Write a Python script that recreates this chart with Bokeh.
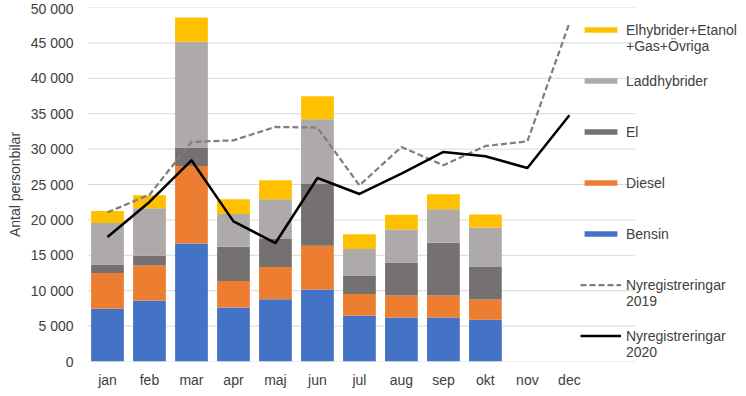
from bokeh.plotting import figure
from bokeh.models import (Range1d, FixedTicker, Legend, LegendItem, ColumnDataSource)
from bokeh.embed import file_html
from bokeh.resources import INLINE

months = ["jan", "feb", "mar", "apr", "maj", "jun", "jul", "aug", "sep", "okt", "nov", "dec"]
bar_months = months[:10]

bensin = [7450, 8620, 16680, 7630, 8810, 10180, 6460, 6220, 6220, 5890]
diesel = [5040, 4950, 10940, 3730, 4530, 6170, 3060, 3110, 3110, 2880]
el = [1220, 1370, 2590, 4850, 3960, 8720, 2640, 4670, 7450, 4570]
laddhybrider = [5850, 6690, 14940, 4620, 5600, 9140, 3720, 4660, 4710, 5600]
elhybrider_ovriga = [1690, 1840, 3440, 2070, 2690, 3260, 2080, 2080, 2120, 1840]

nyreg_2019 = [21070, 23560, 31010, 31240, 33130, 33040, 24880, 30300, 27710, 30440, 31100, 47800]
nyreg_2020 = [17580, 22530, 28420, 19790, 16730, 25920, 23660, 26530, 29600, 28980, 27330, 34780]

y_ticks = list(range(0, 50001, 5000))
y_tick_labels = {v: f"{v:,}".replace(",", " ") for v in y_ticks}

series_names = ["bensin", "diesel", "el", "ladd", "ovr"]
# leading blank line keeps the first text line level with the legend swatch
series_labels = ["Bensin", "Diesel", "El", "Laddhybrider", "\nElhybrider+Etanol\n+Gas+Övriga"]
line_labels = ["\nNyregistreringar\n2019", "\nNyregistreringar\n2020"]
colors = ["#4472C4", "#ED7D31", "#767171", "#AEAAAA", "#FFC000"]

xpos = list(range(1, len(months) + 1))
bar_x = xpos[:len(bar_months)]

# category axis spans 13 slots wide in the original; legend sits beyond it
X_START = 0.524
AXIS_END = 13.57
X_END = 16.17

src = ColumnDataSource(dict(x=bar_x, bensin=bensin, diesel=diesel, el=el,
                            ladd=laddhybrider, ovr=elhybrider_ovriga))

FONT = "Liberation Sans"
TXT = "#404040"
GRID = "#D9D9D9"

p = figure(width=744, height=394, output_backend="svg", toolbar_location=None,
           x_range=Range1d(X_START, X_END), y_range=Range1d(0, 50000),
           min_border_left=87, min_border_right=0, min_border_top=7, min_border_bottom=33)
p.outline_line_color = None
p.xgrid.grid_line_color = None
p.ygrid.grid_line_color = None

# gridlines limited to the category axis width
p.segment(x0=[X_START] * len(y_ticks), x1=[AXIS_END] * len(y_ticks), y0=y_ticks, y1=y_ticks,
          line_color=GRID, line_width=1)

bars = p.vbar_stack(series_names, x="x", width=0.78, source=src, color=colors, line_color=None)

l19 = p.line(xpos, nyreg_2019, line_color="#7F7F7F", line_width=2.25, line_dash="6 3", line_join="round")
l20 = p.line(xpos, nyreg_2020, line_color="#000000", line_width=2.5, line_join="round")

# axes
p.xaxis.ticker = FixedTicker(ticks=xpos)
p.xaxis.major_label_overrides = {x: m for x, m in zip(xpos, months)}
p.xaxis.axis_line_color = None
p.xaxis.major_tick_line_color = None
p.xaxis.major_tick_out = 0
p.xaxis.minor_tick_line_color = None
p.xaxis.minor_tick_out = 0
p.xaxis.major_label_standoff = 10

p.yaxis.ticker = FixedTicker(ticks=y_ticks)
p.yaxis.major_label_overrides = y_tick_labels
p.yaxis.axis_line_color = None
p.yaxis.major_tick_line_color = None
p.yaxis.major_tick_out = 0
p.yaxis.minor_tick_line_color = None
p.yaxis.minor_tick_out = 0
p.yaxis.major_label_standoff = 14
p.yaxis.axis_label = "Antal personbilar"
p.yaxis.axis_label_standoff = 5
p.yaxis.axis_label_text_font_style = "normal"

for ax in (p.xaxis[0], p.yaxis[0]):
    ax.major_label_text_font = FONT
    ax.major_label_text_font_size = "14px"
    ax.major_label_text_color = TXT
    ax.axis_label_text_font = FONT
    ax.axis_label_text_font_size = "14px"
    ax.axis_label_text_color = TXT

items = [LegendItem(label=series_labels[i], renderers=[bars[i]]) for i in [4, 3, 2, 1, 0]]
items.append(LegendItem(label=line_labels[0], renderers=[l19]))
items.append(LegendItem(label=line_labels[1], renderers=[l20]))

legend = Legend(items=items, location=(493, 0), orientation="vertical",
                background_fill_alpha=0, border_line_color=None,
                padding=0, margin=0, spacing=0, glyph_width=41, glyph_height=7,
                label_height=51, label_standoff=5,
                label_text_font=FONT, label_text_font_size="14px", label_text_color=TXT,
                label_text_line_height=1.2)
p.add_layout(legend, "center")

open("out.html", "w").write(file_html(p, INLINE))
